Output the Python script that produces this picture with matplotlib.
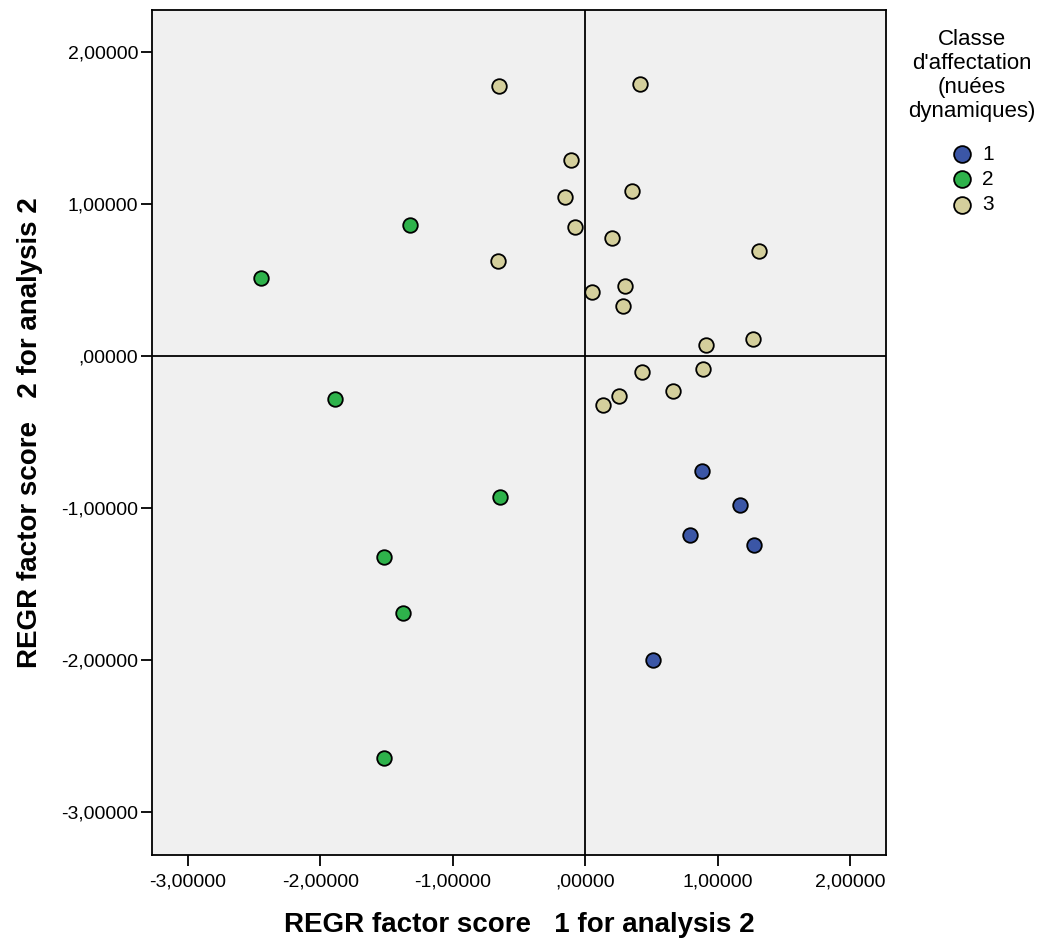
import numpy as np
import matplotlib
matplotlib.use("Agg")
import matplotlib.pyplot as plt
from matplotlib.ticker import FuncFormatter

plt.rcParams['font.family'] = ['Liberation Sans', 'DejaVu Sans']

# class 1 (blue)
x1 = [0.883, 1.170, 0.792, 1.275, 0.513]
y1 = [-0.757, -0.980, -1.178, -1.243, -2.000]
# class 2 (green)
x2 = [-1.321, -2.445, -1.887, -0.642, -1.517, -1.374, -1.517]
y2 = [0.862, 0.513, -0.283, -0.928, -1.322, -1.691, -2.645]
# class 3 (beige)
x3 = [-0.649, 0.415, -0.106, 0.355, -0.151, -0.075, 0.204, -0.657, 1.313, 0.053,
      0.302, 0.287, 0.913, 1.268, 0.430, 0.891, 0.664, 0.257, 0.136]
y3 = [1.776, 1.789, 1.289, 1.086, 1.046, 0.849, 0.776, 0.625, 0.691, 0.421,
      0.461, 0.329, 0.072, 0.112, -0.105, -0.086, -0.230, -0.263, -0.322]

classes = ["1", "2", "3"]
colors = ["#3b56a6", "#2eb24b", "#d4cf9c"]

fig = plt.figure(figsize=(10.46, 9.44), dpi=100)
ax = fig.add_axes([0.1453, 0.0943, 0.7017, 0.8951])
ax.set_facecolor("#f0f0f0")

for xs, ys, lab, c in zip([x1, x2, x3], [y1, y2, y3], classes, colors):
    ax.scatter(xs, ys, s=110, c=c, edgecolors="black", linewidths=1.3,
               label=lab, zorder=3)

ax.axvline(0, color="black", lw=1.3, zorder=2)
ax.axhline(0, color="black", lw=1.3, zorder=2)

ax.set_xlim(-3.27, 2.27)
ax.set_ylim(-3.28, 2.276)
ax.set_xticks([-3, -2, -1, 0, 1, 2])
ax.set_yticks([-3, -2, -1, 0, 1, 2])

def fmt(v, pos):
    s = "%.5f" % v
    if s.startswith("0"):
        s = s[1:]
    elif s.startswith("-0"):
        s = "-" + s[2:]
    if s in ("-.00000",):
        s = ".00000"
    return s.replace(".", ",")

ax.xaxis.set_major_formatter(FuncFormatter(fmt))
ax.yaxis.set_major_formatter(FuncFormatter(fmt))
ax.tick_params(axis="both", labelsize=14, length=8, width=1.3, color="black")
ax.tick_params(axis="x", pad=5)
ax.tick_params(axis="y", pad=2)
for sp in ax.spines.values():
    sp.set_linewidth(1.3)

ax.set_xlabel("REGR factor score   1 for analysis 2", fontsize=20,
              fontweight="bold", labelpad=16)
ax.set_ylabel("REGR factor score   2 for analysis 2", fontsize=20,
              fontweight="bold", labelpad=13)

leg = ax.legend(title="Classe\nd'affectation\n(nuées\ndynamiques)",
                loc="upper center", bbox_to_anchor=(1.117, 1.0), frameon=False,
                fontsize=15, title_fontsize=16, handlelength=1.2,
                handletextpad=0.35, labelspacing=0.3, borderaxespad=0.5,
                markerscale=1.15)
leg.get_title().set_multialignment("center")
leg.get_title().set_linespacing(1.2)
leg._legend_box.align = "center"
leg._legend_box.sep = 16

fig.savefig("out.png", dpi=100)
